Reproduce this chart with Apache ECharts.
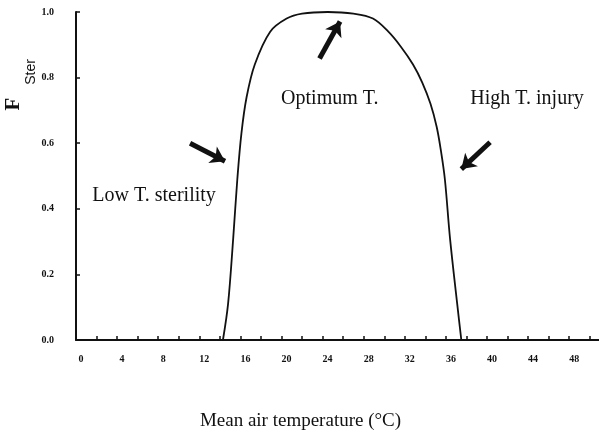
<!DOCTYPE html>
<html>
<head>
<meta charset="utf-8">
<script src="https://cdn.jsdelivr.net/npm/echarts@6/dist/echarts.min.js"></script>
<style>
  html, body { margin: 0; padding: 0; background: #fff; }
  #chart { width: 599px; height: 439px; }
</style>
</head>
<body>
<div id="chart"></div>
<script>
// curve: mean air temperature (C) vs F_Ster
var temps = [14.3, 14.8, 15.3, 15.7, 16.1, 16.6, 17.4, 18.9, 20.5, 22, 24.5, 27, 28.9, 30.4, 31.6, 32.8, 33.7, 34.5, 35.1, 35.5, 35.9, 36.4, 37.1, 37.5];
var fster = [0, 0.11, 0.31, 0.49, 0.63, 0.74, 0.84, 0.94, 0.98, 0.995, 1.0, 0.995, 0.98, 0.94, 0.895, 0.84, 0.785, 0.72, 0.65, 0.58, 0.49, 0.31, 0.11, 0];

var xTickValues = [2, 4, 6, 8, 10, 12, 14, 16, 18, 20, 22, 24, 26, 28, 30, 32, 34, 36, 38, 40, 42, 44, 46, 48, 50];
var xLabelValues = [0, 4, 8, 12, 16, 20, 24, 28, 32, 36, 40, 44, 48];

// annotations (data coords)
var noteTexts = ['Low T. sterility', 'Optimum T.', 'High T. injury'];
var noteAt = [[7.6, 0.44], [24.7, 0.735], [43.9, 0.735]];
// arrows: tail -> head
var arrowFrom = [[11.1, 0.6], [23.7, 0.858], [40.3, 0.603]];
var arrowTo = [[14.5, 0.545], [25.7, 0.971], [37.5, 0.521]];

var curve = [];
for (var i = 0; i < temps.length; i++) curve.push([temps[i], fster[i]]);

var ink = '#111';
var serif = 'Liberation Serif';

var option = {
  animation: false,
  grid: { left: 76, right: 0, top: 12, bottom: 99, containLabel: false },
  xAxis: {
    type: 'value',
    min: 0,
    max: 50.9,
    name: 'Mean air temperature (°C)',
    nameLocation: 'middle',
    nameGap: 72,
    nameTextStyle: { fontFamily: serif, fontSize: 19, color: ink, padding: [0, 74, 0, 0] },
    axisLine: { show: true, lineStyle: { color: ink, width: 2 } },
    axisTick: { show: true, inside: true, length: 4, customValues: xTickValues, lineStyle: { color: ink, width: 1.5 } },
    axisLabel: {
      customValues: xLabelValues,
      margin: 14,
      padding: [0, 0, 0, 10],
      fontFamily: serif, fontWeight: 'bold', fontSize: 10, color: ink
    },
    splitLine: { show: false }
  },
  yAxis: {
    type: 'value',
    min: 0,
    max: 1,
    interval: 0.2,
    axisLine: { show: true, lineStyle: { color: ink, width: 2 } },
    axisTick: { show: true, inside: true, length: 4, lineStyle: { color: ink, width: 1.5 } },
    axisLabel: {
      margin: 22,
      formatter: function (v) { return v.toFixed(1); },
      fontFamily: serif, fontWeight: 'bold', fontSize: 10, color: ink
    },
    splitLine: { show: false }
  },
  graphic: [
    { type: 'text', x: 14, y: 104, rotation: Math.PI / 2,
      style: { text: 'F', font: 'bold 21px "Liberation Serif"', fill: ink, align: 'center', verticalAlign: 'middle' } },
    { type: 'text', x: 31, y: 72, rotation: Math.PI / 2,
      style: { text: 'Ster', font: '14px "Liberation Sans"', fill: ink, align: 'center', verticalAlign: 'middle' } }
  ],
  series: [
    {
      type: 'line',
      data: curve,
      smooth: 0.35,
      symbol: 'none',
      lineStyle: { color: ink, width: 1.8 },
      markLine: {
        silent: true,
        symbol: ['none', 'arrow'],
        symbolSize: [14, 14],
        label: { show: false },
        lineStyle: { color: ink, width: 5, type: 'solid' },
        data: arrowFrom.map(function (p, k) {
          return [{ coord: p }, { coord: arrowTo[k] }];
        })
      },
      markPoint: {
        silent: true,
        symbol: 'circle',
        symbolSize: 0,
        data: noteTexts.map(function (t, k) {
          return {
            coord: noteAt[k],
            label: {
              show: true, position: 'inside', formatter: t,
              fontFamily: serif, fontSize: 20, color: ink
            }
          };
        })
      }
    }
  ]
};

var chart = echarts.init(document.getElementById('chart'));
chart.setOption(option);
</script>
</body>
</html>
